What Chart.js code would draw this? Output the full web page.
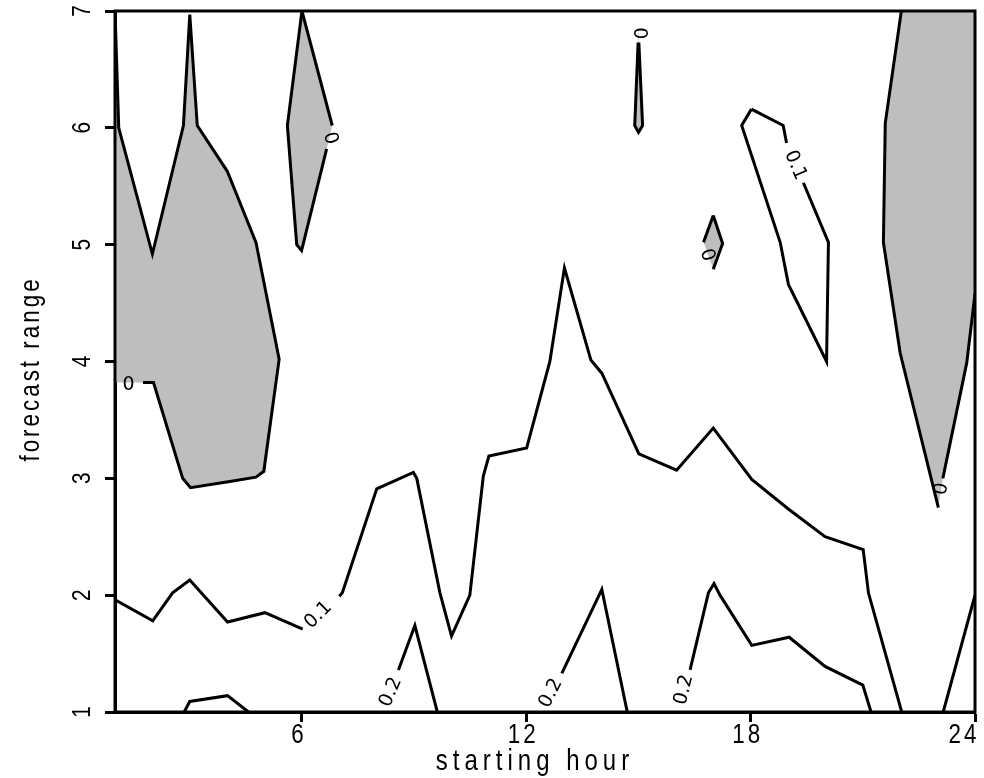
<!DOCTYPE html>
<html>
<head>
<meta charset="utf-8">
<script src="https://cdn.jsdelivr.net/npm/chart.js@4.4.1/dist/chart.umd.min.js"></script>
<style>
    html, body { margin: 0; padding: 0; background: #ffffff; }
    #area { width: 984px; height: 778px; }
</style>
</head>
<body>
<div id="area"><canvas id="contorno-canvas"></canvas></div>
<script>

// eixos
const xTicks = [6, 12, 18, 24];
const yTicks = [1, 2, 3, 4, 5, 6, 7];
const tituloX = 'starting hour';
const tituloY = 'forecast range';

// nivel 0 - regioes sombreadas (abaixo de zero)
const zeroEsqX = [1, 1.1, 2, 2.83, 3, 3.2, 4, 4.77, 5.39, 4.98, 4.77, 4.03, 3.02, 2.81, 2.03, 1.75, 1];
const zeroEsqY = [7, 6.0, 4.92, 6.02, 6.97, 6.02, 5.63, 5.02, 4.02, 3.06, 3.01, 2.97, 2.92, 3.0, 3.82, 3.82, 3.82];
const zeroEsqGaps = [15];

const zeroSeisX = [6, 6.81, 6.66, 5.99, 5.86, 5.61, 6];
const zeroSeisY = [7, 6.02, 5.82, 4.95, 5.0, 6.02, 7];
const zeroSeisGaps = [1];

const zeroQuinzeX = [15.0, 15.01, 15.11, 15.0, 14.9, 14.99, 15.01];
const zeroQuinzeY = [6.91, 6.73, 6.02, 5.96, 6.02, 6.73, 6.73];
const zeroQuinzeGaps = [0];

const zeroDezX = [17.0, 17.25, 17.0, 16.74, 17.0];
const zeroDezY = [5.25, 5.01, 4.79, 5.02, 5.25];
const zeroDezGaps = [2];

const zeroDirX = [22.03, 21.6, 21.55, 22.0, 23.02, 23.14, 23.78, 24, 24];
const zeroDirY = [7, 6.04, 5.02, 4.07, 2.75, 3.0, 3.99, 4.58, 7];
const zeroDirGaps = [4, 7];

// nivel 0.1
const umX = [1, 2.01, 2.54, 3.0, 4.01, 5.01, 6.02, null, 7.0, 7.08, 8.0, 8.98, 9.07, 9.69, 10.0, 10.49, 10.85, 11.0, 12.01, 12.63, 13.02, 13.73, 14.02, 15.01, 16.02, 17.0, 18.03, 19.0, 19.99, 21.01, 21.15, 22.04];
const umY = [1.96, 1.78, 2.02, 2.13, 1.77, 1.85, 1.71, null, 1.99, 2.02, 2.91, 3.05, 3.0, 2.02, 1.65, 2.0, 3.02, 3.19, 3.26, 4.0, 4.8, 4.01, 3.9, 3.21, 3.07, 3.43, 2.99, 2.74, 2.5, 2.39, 2.02, 1.0];

const umIlhaX = [18.02, 17.76, 18.79, 19.01, 20.03, 20.08, 19.41, null, 18.96, 18.87, 18.02];
const umIlhaY = [6.16, 6.02, 5.02, 4.66, 4.0, 5.02, 5.53, null, 5.87, 6.02, 6.16];

const umCantoX = [23.15, 24];
const umCantoY = [1.0, 2.0];

// nivel 0.2
const doisAX = [2.85, 3.0, 4.01, 4.57];
const doisAY = [1.0, 1.09, 1.14, 1.0];
const doisBX = [8.58, 9.02, 9.62];
const doisBY = [1.36, 1.74, 1.0];
const doisCX = [12.95, 14.02, 14.7];
const doisCY = [1.33, 2.05, 1.0];
const doisDX = [16.38, 16.87, 17.02, 17.18, 18.03, 19.03, 19.99, 21.0, 21.22];
const doisDY = [1.36, 2.02, 2.1, 2.0, 1.57, 1.64, 1.39, 1.23, 1.0];

// rotulos dos contornos
const rotuloTexto = ['0', '0', '0', '0', '0.1', '0.1', '0.2', '0.2', '0.2', '0'];
const rotuloX = [1.36, 6.75, 15.01, 16.83, 19.19, 6.44, 8.38, 12.66, 16.22, 23.11];
const rotuloY = [3.80, 5.91, 6.81, 4.91, 5.68, 1.83, 1.17, 1.16, 1.19, 2.91];
const rotuloAngulo = [0, 75, 90, 70, 67, -45, -67, -63, -76, -80];


function pontos(xs, ys) {
    return xs.map((x, i) => ({ x: x, y: ys[i] }));
}

function sombra(xs, ys) {
    return {
        data: pontos(xs, ys),
        showLine: true,
        fill: 'shape',
        backgroundColor: '#bebebe',
        borderColor: 'rgba(0,0,0,0)',
        borderWidth: 0,
        pointRadius: 0,
        tension: 0
    };
}

function linha(xs, ys, gaps) {
    gaps = gaps || [];
    return {
        data: pontos(xs, ys),
        showLine: true,
        fill: false,
        borderColor: '#000000',
        borderWidth: 3,
        pointRadius: 0,
        tension: 0,
        spanGaps: false,
        segment: {
            borderColor: ctx => gaps.includes(ctx.p0DataIndex) ? 'rgba(0,0,0,0)' : undefined
        }
    };
}

const fonteEixo = '"Liberation Sans", Arial, sans-serif';
const aperto = 0.8; // fonte estreita, como no original

// texto estreito (escala horizontal) com espacamento entre letras
function textoEstreito(ctx, texto, x, y, tam, espaco, angulo) {
    ctx.save();
    ctx.translate(x, y);
    if (angulo) ctx.rotate(angulo);
    ctx.scale(aperto, 1);
    ctx.font = tam + 'px ' + fonteEixo;
    ctx.letterSpacing = (espaco / aperto) + 'px';
    ctx.textAlign = 'center';
    ctx.fillText(texto, 0, 0);
    ctx.restore();
}

const extras = {
    id: 'extras',
    afterDatasetsDraw(chart) {
        const ctx = chart.ctx;
        const sx = chart.scales.x;
        const sy = chart.scales.y;
        ctx.save();
        ctx.fillStyle = '#000';
        ctx.font = '19px "DejaVu Sans", sans-serif';
        ctx.textAlign = 'center';
        ctx.textBaseline = 'middle';
        for (let i = 0; i < rotuloTexto.length; i++) {
            ctx.save();
            ctx.translate(sx.getPixelForValue(rotuloX[i]), sy.getPixelForValue(rotuloY[i]));
            ctx.rotate(rotuloAngulo[i] * Math.PI / 180);
            ctx.fillText(rotuloTexto[i], 0, 0);
            ctx.restore();
        }
        ctx.restore();
    },
    afterDraw(chart) {
        const ctx = chart.ctx;
        const a = chart.chartArea;
        const sx = chart.scales.x;
        const sy = chart.scales.y;
        ctx.save();
        // caixa
        ctx.strokeStyle = '#000';
        ctx.lineWidth = 3;
        ctx.strokeRect(a.left, a.top, a.right - a.left, a.bottom - a.top);

        ctx.fillStyle = '#000';
        ctx.textBaseline = 'alphabetic';

        // rotulos do eixo x
        sx.ticks.forEach(t => {
            let px = sx.getPixelForValue(t.value);
            const w = 26;
            if (px + w / 2 > 980) px = 980 - w / 2;
            textoEstreito(ctx, String(t.value), px - 3, 743, 28, 3, 0);
        });

        // rotulos do eixo y (girados)
        ctx.textBaseline = 'middle';
        sy.ticks.forEach(t => {
            textoEstreito(ctx, String(t.value), 83, sy.getPixelForValue(t.value), 26, 0, -Math.PI / 2);
        });

        // titulos dos eixos
        ctx.textBaseline = 'alphabetic';
        textoEstreito(ctx, tituloX, 535, 770, 30, 5, 0);
        textoEstreito(ctx, tituloY, 39, 369, 28, 3, -Math.PI / 2);
        ctx.restore();
    }
};

function plotarContorno() {
    const canvas = document.getElementById('contorno-canvas').getContext('2d');

    const datasets = [
        sombra(zeroEsqX, zeroEsqY),
        sombra(zeroSeisX, zeroSeisY),
        sombra(zeroQuinzeX, zeroQuinzeY),
        sombra(zeroDezX, zeroDezY),
        sombra(zeroDirX, zeroDirY),
        linha(zeroEsqX, zeroEsqY, zeroEsqGaps),
        linha(zeroSeisX, zeroSeisY, zeroSeisGaps),
        linha(zeroQuinzeX, zeroQuinzeY, zeroQuinzeGaps),
        linha(zeroDezX, zeroDezY, zeroDezGaps),
        linha(zeroDirX, zeroDirY, zeroDirGaps),
        linha(umX, umY),
        linha(umIlhaX, umIlhaY),
        linha(umCantoX, umCantoY),
        linha(doisAX, doisAY),
        linha(doisBX, doisBY),
        linha(doisCX, doisCY),
        linha(doisDX, doisDY)
    ];
    // sombras primeiro, linhas por cima
    datasets.forEach((d, i) => { d.order = datasets.length - i; });

    new Chart(canvas, {
        type: 'scatter',
        data: { datasets: datasets },
        plugins: [extras],
        options: {
            responsive: true,
            maintainAspectRatio: false,
            animation: false,
            layout: { padding: { top: 11, right: 9, left: 0, bottom: 0 } },
            plugins: {
                legend: { display: false },
                tooltip: { enabled: false }
            },
            scales: {
                x: {
                    type: 'linear',
                    min: 1,
                    max: 24,
                    afterBuildTicks: s => { s.ticks = xTicks.map(v => ({ value: v })); },
                    afterFit: s => { s.height = 66; s.paddingLeft = 0; s.paddingRight = 0; },
                    grid: { display: true, drawOnChartArea: false, drawTicks: true, tickLength: 10, tickWidth: 3, tickColor: '#000' },
                    border: { display: true, color: '#000', width: 3 },
                    ticks: { display: false }
                },
                y: {
                    type: 'linear',
                    min: 1,
                    max: 7,
                    afterBuildTicks: s => { s.ticks = yTicks.map(v => ({ value: v })); },
                    afterFit: s => { s.width = 115; s.paddingTop = 0; s.paddingBottom = 0; },
                    grid: { display: true, drawOnChartArea: false, drawTicks: true, tickLength: 10, tickWidth: 3, tickColor: '#000' },
                    border: { display: true, color: '#000', width: 3 },
                    ticks: { display: false }
                }
            }
        }
    });
}

plotarContorno();
</script>
</body>
</html>
